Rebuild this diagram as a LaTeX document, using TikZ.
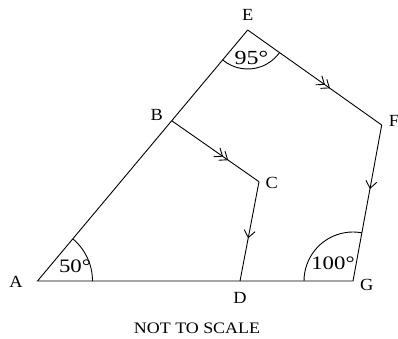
\documentclass[tikz,border=0pt]{standalone}
\usepackage{fontspec}
\setmainfont{Liberation Serif}
\newfontfamily\widefont[FakeStretch=1.12]{Liberation Serif}
\newfontfamily\angfont[FakeStretch=1.2]{Liberation Serif}
\newfontfamily\letfont[FakeStretch=1.08]{Liberation Serif}
\usetikzlibrary{arrows.meta,decorations.markings}
\tikzset{
  edge/.style={line width=0.9pt},
  barbtip/.tip={Straight Barb[length=7pt,width=11pt,line width=0.9pt]},
  onearrow/.style={edge,postaction={decorate},decoration={markings,
     mark=at position #1 with {\arrow{barbtip}}}},
  twoarrow/.style 2 args={edge,postaction={decorate},decoration={markings,
     mark=at position #1 with {\arrow{barbtip}},
     mark=at position #2 with {\arrow{barbtip}}}},
  vlabel/.style={inner sep=0pt,font=\letfont\fontsize{17}{19}\selectfont},
  anglabel/.style={inner sep=0pt,font=\angfont\fontsize{19}{21}\selectfont},
  anglearc/.style={line width=0.9pt}
}
\begin{document}
\begin{tikzpicture}[x=1pt,y=-1pt]
\useasboundingbox (0,0) rectangle (398,338);
\coordinate (A) at (37.5,281);
\coordinate (B) at (171.7,120.7);
\coordinate (C) at (259,181.7);
\coordinate (D) at (240,281);
\coordinate (E) at (247.7,30);
\coordinate (F) at (381.7,125);
\coordinate (G) at (353,281);

% outline
\draw[edge,line join=miter] (G) -- (A) -- (E);
\draw[twoarrow={0.577}{0.614}] (E) -- (F);
\draw[onearrow=0.41] (F) -- (G);
\draw[twoarrow={0.59}{0.648}] (B) -- (C);
\draw[onearrow=0.57] (C) -- (D);

% angle arcs
\draw[anglearc] ([shift={(0:55pt)}]A) arc[start angle=0,end angle=49.9,radius=55pt];
\draw[anglearc] ([shift={(229.9:39pt)}]E) arc[start angle=229.9,end angle=324.7,radius=39pt];
\draw[anglearc] ([shift={(79.6:49pt)}]G) arc[start angle=79.6,end angle=180,radius=49pt];

% vertex labels
\node[vlabel] (lA) at (16,281.7) {A};
\node[vlabel] (lB) at (156.7,115) {B};
\node[vlabel] (lC) at (271.7,183.3) {C};
\node[vlabel] (lD) at (240,298.3) {D};
\node[vlabel] (lE) at (247.7,15) {E};
\node[vlabel] (lF) at (394,121) {F};
\node[vlabel] (lG) at (366.7,285) {G};

% angle labels
\node[anglabel] (a50) at (75,266) {50°};
\node[anglabel,font=\angfont\fontsize{20}{22}\selectfont] (a95) at (251.5,58) {95°};
\node[anglabel] (a100) at (333,263.5) {100°};

\node[inner sep=0pt,font=\widefont\fontsize{16}{18}\selectfont] (nts) at (197,328.3) {NOT TO SCALE};
\end{tikzpicture}
\end{document}
